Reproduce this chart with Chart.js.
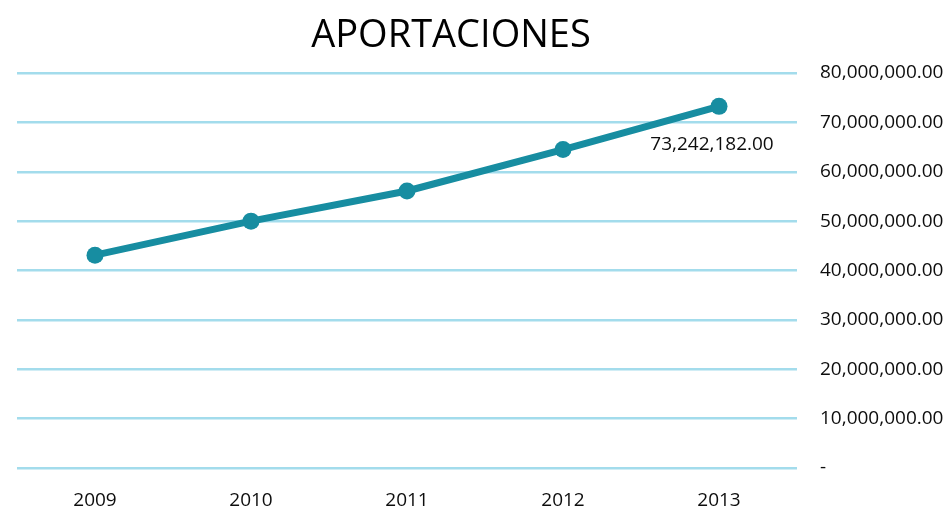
<!DOCTYPE html>
<html>
<head>
<meta charset="utf-8">
<script src="https://cdn.jsdelivr.net/npm/chart.js@4"></script>
<style>
  html, body { margin: 0; padding: 0; background: #fff; }
  #wrap { width: 948px; height: 511px; }
</style>
</head>
<body>
<div id="wrap"><canvas id="chart"></canvas></div>
<script>
// data
const years = ["2009", "2010", "2011", "2012", "2013"];
const aportaciones = [43100000, 50000000, 56100000, 64500000, 73242182];
const labelledIndex = 4; // only the last point carries a label

const lineColor = "#178da1";
const gridColor = "#a3dcec";
const textColor = "#0d0d0d";

const fmt = (v) =>
  v === 0
    ? "-"
    : v.toLocaleString("en-US", { minimumFractionDigits: 2, maximumFractionDigits: 2 });

// title drawn a bit left of the canvas centre, like the original
const titlePlugin = {
  id: "titleText",
  afterDraw(chart) {
    const ctx = chart.ctx;
    ctx.save();
    ctx.font = "38px 'Open Sans'";
    ctx.fillStyle = "#000";
    ctx.textAlign = "center";
    ctx.textBaseline = "alphabetic";
    ctx.fillText("APORTACIONES", 451, 47);
    ctx.restore();
  },
};

// value label under the last point
const valueLabel = {
  id: "valueLabel",
  afterDatasetsDraw(chart) {
    const meta = chart.getDatasetMeta(0);
    const pt = meta.data[labelledIndex];
    const ctx = chart.ctx;
    ctx.save();
    ctx.font = "19px 'Open Sans'";
    ctx.fillStyle = textColor;
    ctx.textAlign = "center";
    ctx.textBaseline = "middle";
    ctx.fillText(fmt(aportaciones[labelledIndex]), pt.x - 7, pt.y + 38);
    ctx.restore();
  },
};

new Chart(document.getElementById("chart"), {
  type: "line",
  data: {
    labels: years,
    datasets: [
      {
        data: aportaciones,
        borderColor: lineColor,
        backgroundColor: lineColor,
        borderWidth: 7,
        pointRadius: 8.5,
        pointHoverRadius: 8.5,
        pointBorderWidth: 0,
        tension: 0,
      },
    ],
  },
  options: {
    responsive: true,
    maintainAspectRatio: false,
    animation: false,
    layout: { padding: { left: 17, top: 73, right: 0, bottom: 0 } },
    plugins: {
      legend: { display: false },
      title: { display: false },
      tooltip: { enabled: false },
    },
    scales: {
      x: {
        offset: true,
        grid: { display: false, drawTicks: false },
        border: { display: false },
        ticks: { color: textColor, font: { family: "Open Sans", size: 19 }, padding: 21 },
        afterFit(scale) { scale.height = 43; },
      },
      y: {
        position: "right",
        min: 0,
        max: 80000000,
        grid: { color: gridColor, lineWidth: 2.5, drawTicks: false },
        border: { display: false },
        ticks: {
          stepSize: 10000000,
          color: textColor,
          font: { family: "Open Sans", size: 19 },
          padding: 23,
          align: "center",
          callback: (v) => fmt(v),
        },
        afterFit(scale) { scale.width = 151; },
      },
    },
  },
  plugins: [titlePlugin, valueLabel],
});
</script>
</body>
</html>
